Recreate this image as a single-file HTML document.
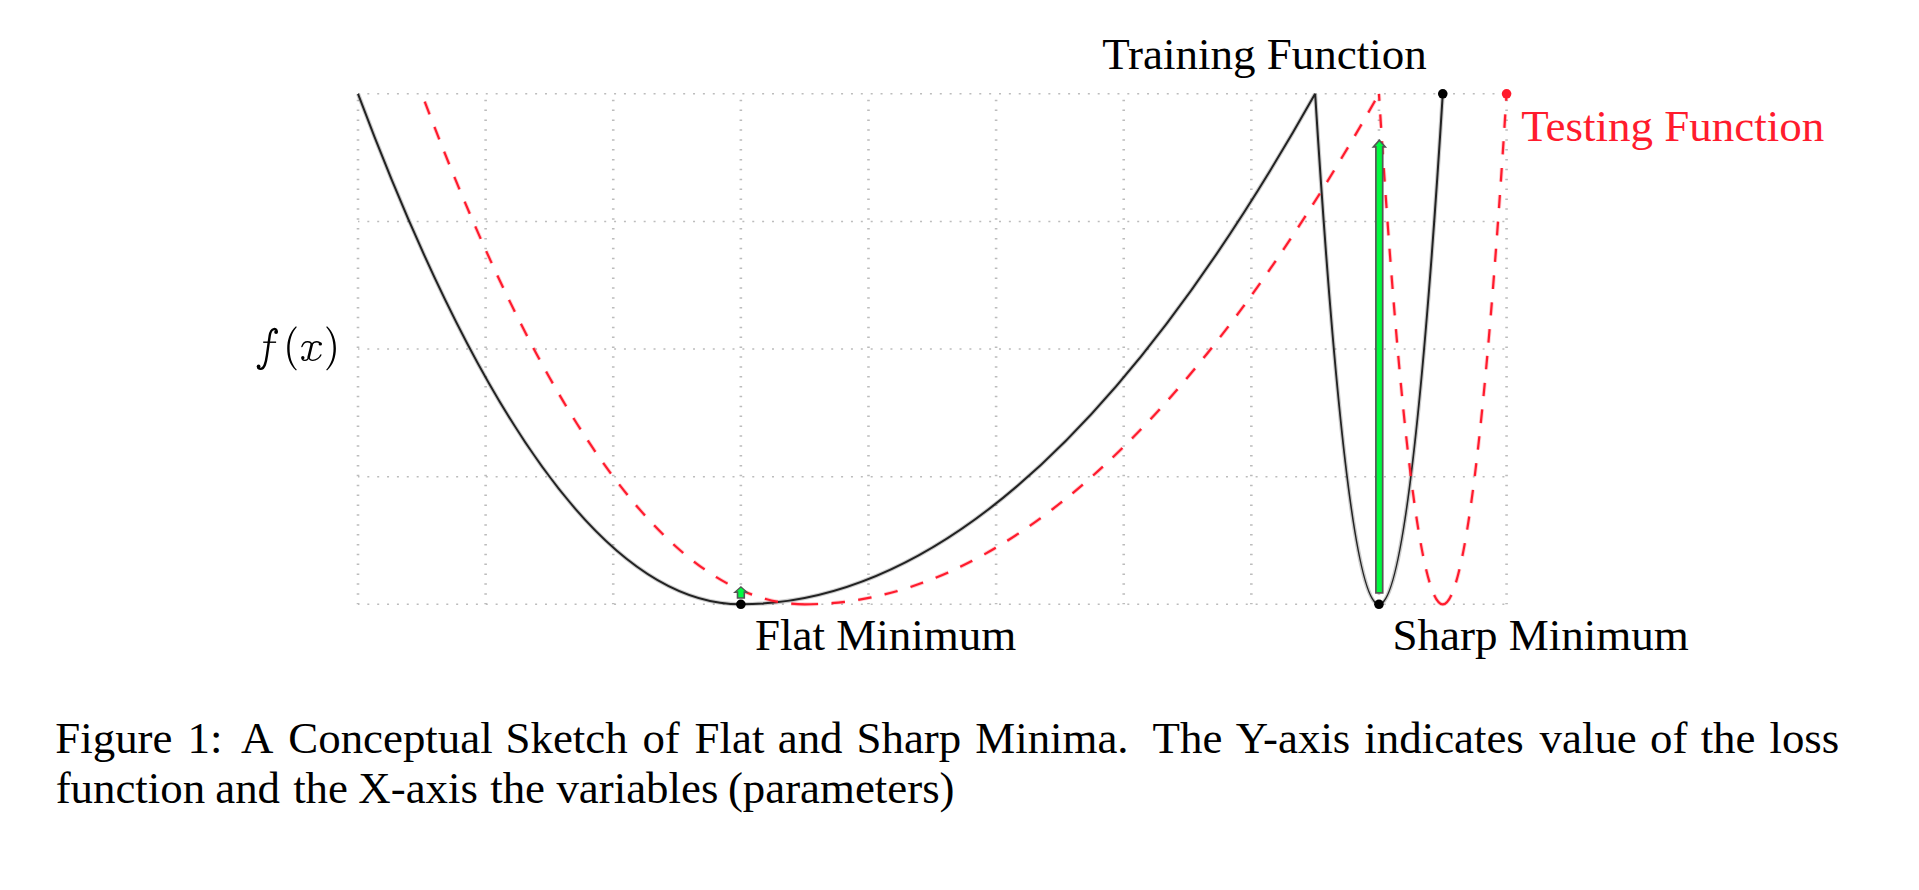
<!DOCTYPE html>
<html><head><meta charset="utf-8"><style>
html,body{margin:0;padding:0;background:#fff;width:1919px;height:890px;overflow:hidden}
svg{display:block}
text{font-family:"Liberation Serif",serif}
</style></head><body>
<svg width="1919" height="890" viewBox="0 0 1919 890">
<g stroke="#bcbcbc" fill="none">
<g stroke-width="1.6" stroke-dasharray="2 7.87" stroke-dashoffset="0.55"><line x1="358.00" y1="604.30" x2="1506.58" y2="604.30"/><line x1="358.00" y1="476.68" x2="1506.58" y2="476.68"/><line x1="358.00" y1="349.06" x2="1506.58" y2="349.06"/><line x1="358.00" y1="221.44" x2="1506.58" y2="221.44"/><line x1="358.00" y1="93.82" x2="1506.58" y2="93.82"/></g>
<g stroke-width="2.6" stroke-dasharray="1.5 8.37" stroke-dashoffset="0.3"><line x1="358.00" y1="604.30" x2="358.00" y2="93.82"/><line x1="485.62" y1="604.30" x2="485.62" y2="93.82"/><line x1="613.24" y1="604.30" x2="613.24" y2="93.82"/><line x1="740.86" y1="604.30" x2="740.86" y2="93.82"/><line x1="868.48" y1="604.30" x2="868.48" y2="93.82"/><line x1="996.10" y1="604.30" x2="996.10" y2="93.82"/><line x1="1123.72" y1="604.30" x2="1123.72" y2="93.82"/><line x1="1251.34" y1="604.30" x2="1251.34" y2="93.82"/><line x1="1378.96" y1="604.30" x2="1378.96" y2="93.82"/><line x1="1506.58" y1="604.30" x2="1506.58" y2="93.82"/></g>
</g>
<path d="M740.86,604.30 Q549.43,604.30 358.00,93.82 M740.86,604.30 Q1028.01,604.30 1315.15,93.82 M1378.96,604.30 Q1347.06,604.30 1315.15,93.82 M1378.96,604.30 Q1410.87,604.30 1442.77,93.82" fill="none" stroke="#000" stroke-opacity="0.2" stroke-width="4.2"/>
<path d="M740.86,604.30 Q549.43,604.30 358.00,93.82 M740.86,604.30 Q1028.01,604.30 1315.15,93.82 M1378.96,604.30 Q1347.06,604.30 1315.15,93.82 M1378.96,604.30 Q1410.87,604.30 1442.77,93.82" fill="none" stroke="#222" stroke-width="2.0"/>
<path d="M804.67,604.30 Q613.24,604.30 421.81,93.82 M804.67,604.30 Q1091.82,604.30 1378.96,93.82 M1442.77,604.30 Q1410.87,604.30 1378.96,93.82 M1442.77,604.30 Q1474.67,604.30 1506.58,93.82" fill="none" stroke="#ff1b2d" stroke-opacity="0.22" stroke-width="4.0" stroke-dasharray="13.46 13.46"/>
<path d="M804.67,604.30 Q613.24,604.30 421.81,93.82 M804.67,604.30 Q1091.82,604.30 1378.96,93.82 M1442.77,604.30 Q1410.87,604.30 1378.96,93.82 M1442.77,604.30 Q1474.67,604.30 1506.58,93.82" fill="none" stroke="#ff1b2d" stroke-width="2.2" stroke-dasharray="13.46 13.46"/>
<circle cx="740.86" cy="604.30" r="4.8" fill="#000"/>
<circle cx="1378.96" cy="604.30" r="4.8" fill="#000"/>
<circle cx="1442.77" cy="93.82" r="4.8" fill="#000"/>
<circle cx="1506.58" cy="93.82" r="4.8" fill="#ff1b2d"/>
<polygon points="740.90,586.00 748.80,592.90 745.10,592.90 745.10,598.80 736.70,598.80 736.70,592.90 733.00,592.90" fill="#555555"/><polygon points="740.90,587.66 745.07,591.30 743.50,591.30 743.50,597.20 738.30,597.20 738.30,591.30 736.73,591.30" fill="#00fa40"/>
<polygon points="1379.30,139.00 1387.10,147.80 1383.55,147.80 1383.55,593.80 1375.05,593.80 1375.05,147.80 1371.50,147.80" fill="#555555"/><polygon points="1379.30,141.56 1383.32,146.10 1381.85,146.10 1381.85,592.10 1376.75,592.10 1376.75,146.10 1375.28,146.10" fill="#00fa40"/>
<g font-size="45">
<text x="1102.2" y="69.1">Training Function</text>
<text x="1521.2" y="140.7" fill="#ff1b2d">Testing Function</text>
<text x="755" y="649.5">Flat Minimum</text>
<text x="1392.6" y="649.7">Sharp Minimum</text>
</g>
<g fill="none" stroke="#000" stroke-linecap="round">
<path d="M276.6,331.4 C276.8,329.6 275.3,328.9 273.9,329.1 C271.2,329.5 270.2,332.6 269.7,335.8 L266.9,355.5 C265.9,362.5 264.6,368.9 260.6,368.9 C259.2,368.9 258.2,368.2 258.1,367.2" stroke-width="2.4"/>
<path d="M263.2,342.2 L276.1,342.2" stroke-width="1.4" stroke-linecap="butt"/>
<path d="M296.0,326.2 C289.6,332.2 287.2,340.2 287.2,348.4 C287.2,356.6 289.6,364.6 296.0,370.6 L296.8,369.8 C291.8,364.2 289.6,356.6 289.6,348.4 C289.6,340.2 291.8,332.6 296.8,327.0 Z" fill="#000" stroke="none"/>
<path d="M327.0,326.2 C333.4,332.2 335.9,340.2 335.9,348.4 C335.9,356.6 333.4,364.6 327.0,370.6 L326.2,369.8 C331.2,364.2 333.5,356.6 333.5,348.4 C333.5,340.2 331.2,332.6 326.2,327.0 Z" fill="#000" stroke="none"/>
<path d="M301.9,346.6 C302.9,343.6 305.1,341.8 307.5,341.8 C309.6,341.8 311.6,342.6 311.6,345.0" stroke-width="1.4"/>
<path d="M311.8,344.2 L308.7,357.0" stroke-width="2.6"/>
<path d="M308.7,356.6 C308.2,359.2 306.8,360.4 304.9,360.4 C303.6,360.4 302.7,359.9 302.3,359.2" stroke-width="1.4"/>
<path d="M320.6,343.6 C319.6,342.3 318.3,341.8 316.9,341.8 C314.3,341.8 312.6,343.4 311.9,344.6" stroke-width="1.4"/>
<path d="M308.8,357.2 C309.2,359.2 310.6,360.4 312.8,360.4 C316.1,360.4 319.6,357.9 320.8,355.0" stroke-width="1.4"/>
</g>
<g fill="#000">
<circle cx="276.1" cy="332.1" r="1.9"/>
<circle cx="258.6" cy="366.5" r="1.9"/>
<circle cx="320.3" cy="343.9" r="1.7"/>
<circle cx="302.8" cy="357.8" r="1.7"/>
</g>
<g font-size="44.87">
<text x="55.30" y="753.2">Figure</text>
<text x="187.50" y="753.2">1:</text>
<text x="241.10" y="753.2">A</text>
<text x="288.30" y="753.2">Conceptual</text>
<text x="505.55" y="753.2">Sketch</text>
<text x="642.40" y="753.2">of</text>
<text x="694.60" y="753.2">Flat</text>
<text x="777.75" y="753.2">and</text>
<text x="856.55" y="753.2">Sharp</text>
<text x="975.30" y="753.2">Minima.</text>
<text x="1152.60" y="753.2">The</text>
<text x="1235.70" y="753.2">Y-axis</text>
<text x="1364.35" y="753.2">indicates</text>
<text x="1539.60" y="753.2">value</text>
<text x="1650.00" y="753.2">of</text>
<text x="1700.65" y="753.2">the</text>
<text x="1769.45" y="753.2">loss</text>
<text x="55.65" y="803.0">function</text>
<text x="215.25" y="803.0">and</text>
<text x="293.15" y="803.0">the</text>
<text x="358.35" y="803.0">X-axis</text>
<text x="490.20" y="803.0">the</text>
<text x="556.45" y="803.0">variables</text>
<text x="727.90" y="803.0">(parameters)</text>
</g>
</svg>
</body></html>
